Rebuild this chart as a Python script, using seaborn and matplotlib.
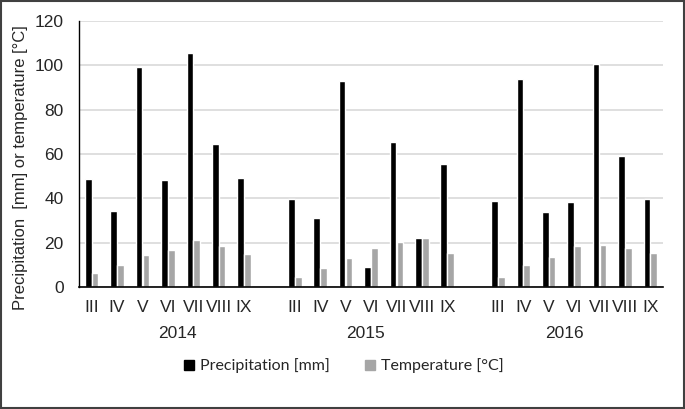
import matplotlib
matplotlib.use("Agg")
import matplotlib.pyplot as plt
import seaborn as sns
import pandas as pd
import numpy as np

years = ["2014", "2015", "2016"]
months = ["III", "IV", "V", "VI", "VII", "VIII", "IX"]
precip_2014 = [48.5, 34.3, 99.4, 48.1, 105.7, 64.5, 49.1]
temp_2014 = [6.5, 9.9, 14.3, 16.6, 21.1, 18.7, 14.9]
precip_2015 = [39.7, 31.0, 92.9, 8.9, 65.2, 21.9, 55.6]
temp_2015 = [4.4, 8.6, 13.0, 17.6, 20.2, 22.1, 15.5]
precip_2016 = [38.6, 93.7, 33.7, 38.3, 100.6, 59.0, 39.5]
temp_2016 = [4.4, 9.7, 13.7, 18.4, 18.8, 17.6, 15.2]
series_names = ["Precipitation [mm]", "Temperature [°C]"]

precip = [precip_2014, precip_2015, precip_2016]
temp = [temp_2014, temp_2015, temp_2016]

rows = []
order = []
tick_labels = []
for yi, y in enumerate(years):
    for mi, m in enumerate(months):
        key = f"{y}-{m}"
        order.append(key)
        tick_labels.append(m)
        rows.append({"cat": key, "series": series_names[0], "value": precip[yi][mi]})
        rows.append({"cat": key, "series": series_names[1], "value": temp[yi][mi]})
    if yi < len(years) - 1:
        order.append(f"gap{yi}")
        tick_labels.append("")
df = pd.DataFrame(rows)

sns.set_style("white")
plt.rcParams["font.family"] = "sans-serif"
plt.rcParams["font.sans-serif"] = ["Liberation Sans"]

ARIAL = ["Liberation Sans", "DejaVu Sans"]
FS = 12.5

fig = plt.figure(figsize=(6.85, 4.09), dpi=100)
ax = fig.add_axes([79/685, 1-287/409, (663-79)/685, (287-21)/409])

sns.barplot(data=df, x="cat", y="value", hue="series", order=order,
            hue_order=series_names, palette=["#000000", "#a6a6a6"],
            width=0.54, gap=0.04, ax=ax, legend=False, errorbar=None,
            saturation=1)

ax.set_ylim(0, 120)
ax.set_yticks(np.arange(0, 121, 20))
ax.yaxis.grid(True, color="#d9d9d9", linewidth=1.2)
ax.set_axisbelow(True)
ax.set_xlim(-0.5, len(order) - 0.5)
ax.set_xticks(range(len(order)))
ax.set_xticklabels(tick_labels, fontsize=FS, family=ARIAL)
for lab in ax.get_yticklabels():
    lab.set_family(ARIAL)
ax.tick_params(axis="x", length=0, pad=9)
ax.tick_params(axis="y", length=0, labelsize=FS, pad=11)
ax.set_xlabel("")
ax.set_ylabel("Precipitation  [mm] or temperature [°C]", fontsize=12,
              family=ARIAL)
ax.yaxis.set_label_coords(-0.088, 0.45)
for s in ["top", "right"]:
    ax.spines[s].set_visible(False)
ax.spines["left"].set_color("#000000")
ax.spines["bottom"].set_color("#000000")
ax.spines["left"].set_linewidth(1.0)
ax.spines["bottom"].set_linewidth(1.2)

# year labels
year_offsets = [0.36, -0.2, -0.4]
for yi, y in enumerate(years):
    center = yi * (len(months) + 1) + (len(months) - 1) / 2 + year_offsets[yi]
    ax.text(center, -0.174, y, transform=ax.get_xaxis_transform(),
            ha="center", va="center", fontsize=FS, family=ARIAL)

handles = [plt.Rectangle((0, 0), 1, 1, color=c) for c in ["#000000", "#a6a6a6"]]
fig.legend(handles, series_names, loc="center", bbox_to_anchor=(344/685, 1-366/409),
           ncol=2, frameon=False, handlelength=0.6, handleheight=0.6,
           handletextpad=0.4, columnspacing=2.2,
           prop={"family": ["Lato", "DejaVu Sans"], "size": 11.5})

border = plt.Rectangle((0.002, 0.003), 0.996, 0.994, transform=fig.transFigure,
                       fill=False, edgecolor="#404040", linewidth=1.5)
fig.patches.append(border)

fig.savefig("out.png", dpi=100, facecolor="white")
